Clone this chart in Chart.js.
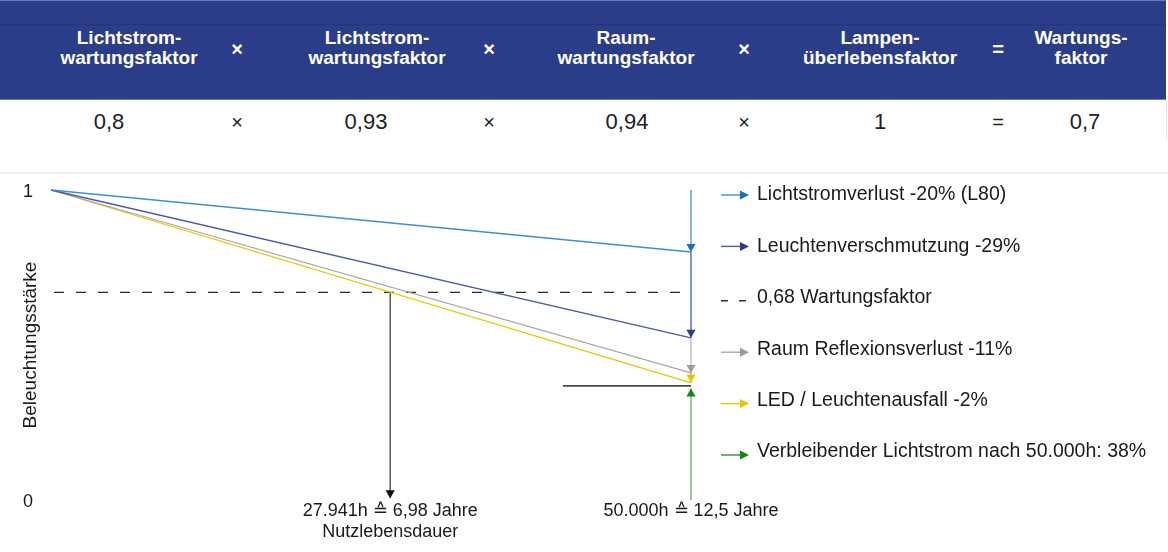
<!DOCTYPE html>
<html lang="de">
<head>
<meta charset="utf-8">
<title>Wartungsfaktor</title>
<script src="https://cdn.jsdelivr.net/npm/chart.js@4"></script>
<style>
  body { margin: 0; width: 1168px; height: 552px; position: relative; overflow: hidden; background: #fff;
         font-family: 'Liberation Sans', Arial, sans-serif; color: #1a1a1a; }
  .head { position: absolute; left: 0; top: 0; width: 1166px; height: 98px; background: #2b3d89;
          border-top: 1px solid #6f7db3; border-bottom: 1px solid #6f7db3; }
  .head .rule { position: absolute; left: 0; top: 23px; width: 100%; height: 1px; background: #24357a; }
  .row { position: absolute; left: 0; top: 100px; width: 1166px; height: 40px; border-right: 1px solid #e4e4e4; }
  .sep { position: absolute; left: 0; top: 172px; width: 1168px; height: 2px; background: #ececec; }
  .cell { position: absolute; transform: translateX(-50%); text-align: center; white-space: nowrap; }
  .hcell { top: 27px; font-weight: bold; font-size: 19px; line-height: 20px; color: #fff; }
  .hop { top: 36px; font-weight: bold; font-size: 20px; line-height: 24px; color: #fff; }
  .vcell { top: 9px; font-size: 22px; line-height: 26px; color: #222; }
  .vop { top: 10px; font-size: 20px; line-height: 24px; color: #222; }
  #chartBox { position: absolute; left: 0; top: 174px; width: 1168px; height: 378px; }
</style>
</head>
<body>
<div class="head" id="head"><div class="rule"></div></div>
<div class="row" id="row"></div>
<div class="sep"></div>
<div id="chartBox"><canvas id="maintChart"></canvas></div>

<script>
// --- table data ---
const factorHeaders = [
    ['Lichtstrom-', 'wartungsfaktor'],
    ['Lichtstrom-', 'wartungsfaktor'],
    ['Raum-', 'wartungsfaktor'],
    ['Lampen-', 'überlebensfaktor'],
    ['Wartungs-', 'faktor']
];
const factorValues = ['0,8', '0,93', '0,94', '1', '0,7'];
const operators = ['×', '×', '×', '='];

// --- chart data (hours / relative illuminance) ---
const hoursRange = [0, 50000];
const lichtstromverlust = [1, 0.80];
const leuchtenverschmutzung = [1, 0.523];
const raumReflexionsverlust = [1, 0.41];
const ledLeuchtenausfall = [1, 0.378];
const wartungsfaktorWert = 0.67;
const verbleibenderLichtstrom = [0, 0.36];
const nutzlebensdauerStunden = 26500;
const nutzlebensdauerBis = 0.006;
const restLinieStunden = [40000, 50000];
const restLinieWert = 0.368;

const yTickValues = [0, 1];
const xTickValues = [26500, 50000];
const xTickLabels = [['27.941h ≙ 6,98 Jahre', 'Nutzlebensdauer'], ['50.000h ≙ 12,5 Jahre']];
const yAxisTitle = 'Beleuchtungsstärke';

const legendLabels = [
    'Lichtstromverlust -20% (L80)',
    'Leuchtenverschmutzung -29%',
    '0,68 Wartungsfaktor',
    'Raum Reflexionsverlust -11%',
    'LED / Leuchtenausfall -2%',
    'Verbleibender Lichtstrom nach 50.000h: 38%'
];

// layout
const headCenters = [129, 377, 626, 880, 1081];
const valueCenters = [109, 366, 627, 880, 1085];
const opCenters = [237, 489, 744, 998];

const head = document.getElementById('head');
const row = document.getElementById('row');
factorHeaders.forEach((lines, i) => {
    const d = document.createElement('div');
    d.className = 'cell hcell';
    d.style.left = headCenters[i] + 'px';
    d.innerHTML = lines.join('<br>');
    head.appendChild(d);
    const v = document.createElement('div');
    v.className = 'cell vcell';
    v.style.left = valueCenters[i] + 'px';
    v.textContent = factorValues[i];
    row.appendChild(v);
});
operators.forEach((op, i) => {
    const h = document.createElement('div');
    h.className = 'cell hop';
    h.style.left = opCenters[i] + 'px';
    h.textContent = op;
    head.appendChild(h);
    const v = document.createElement('div');
    v.className = 'cell vop';
    v.style.left = opCenters[i] + 'px';
    v.textContent = op;
    row.appendChild(v);
});

const pts = (xs, ys) => xs.map((x, i) => ({ x: x, y: ys[i] }));
const endH = hoursRange[1];

const lineSet = (data, color, width, extra) => Object.assign({
    data: data, borderColor: color, borderWidth: width, pointRadius: 0, clip: false, fill: false
}, extra || {});

const datasets = [
    lineSet(pts(hoursRange, lichtstromverlust), '#3d8fd5', 1.3),
    lineSet(pts(hoursRange, leuchtenverschmutzung), '#4a5aaa', 1.3),
    lineSet(pts(hoursRange, raumReflexionsverlust), '#a8a8a8', 1.3),
    lineSet(pts(hoursRange, ledLeuchtenausfall), '#f0c200', 1.3),
    lineSet(pts(hoursRange, [wartungsfaktorWert, wartungsfaktorWert]), '#2a2a2a', 1.2, { borderDash: [10, 12], borderDashOffset: -3 }),
    lineSet(pts(restLinieStunden, [restLinieWert, restLinieWert]), '#4a4a4a', 1.6),
    // vertical loss arrows at 50.000h
    lineSet(pts([endH, endH], [lichtstromverlust[0], lichtstromverlust[1]]), '#5a9ed9', 1.5, { arrow: '#1a6fc0' }),
    lineSet(pts([endH, endH], [lichtstromverlust[1], leuchtenverschmutzung[1]]), '#6271b8', 1.5, { arrow: '#2b3d8a' }),
    lineSet(pts([endH, endH], [leuchtenverschmutzung[1], raumReflexionsverlust[1]]), '#c4c4c4', 1.5, { arrow: '#9b9b9b' }),
    lineSet(pts([endH, endH], [raumReflexionsverlust[1], ledLeuchtenausfall[1]]), '#f0c000', 1.5, { arrow: '#f0c000' }),
    lineSet(pts([endH, endH], verbleibenderLichtstrom), '#74b874', 1.5, { arrow: '#0e8a0e' }),
    lineSet(pts([nutzlebensdauerStunden, nutzlebensdauerStunden], [wartungsfaktorWert, nutzlebensdauerBis]), '#5a5a5a', 1.5, { arrow: '#111' })
];

function drawHead(ctx, tipX, tipY, angle, len, half, color) {
    ctx.save();
    ctx.translate(tipX, tipY);
    ctx.rotate(angle);
    ctx.beginPath();
    ctx.moveTo(0, 0);
    ctx.lineTo(-len, -half);
    ctx.lineTo(-len, half);
    ctx.closePath();
    ctx.fillStyle = color;
    ctx.fill();
    ctx.restore();
}

const arrowPlugin = {
    id: 'arrowHeads',
    afterDatasetsDraw: (chart) => {
        const ctx = chart.ctx;
        chart.data.datasets.forEach((ds, i) => {
            if (!ds.arrow) return;
            const pts = chart.getDatasetMeta(i).data;
            const a = pts[pts.length - 2], b = pts[pts.length - 1];
            drawHead(ctx, b.x, b.y, Math.atan2(b.y - a.y, b.x - a.x), 8, 4.6, ds.arrow);
        });
    }
};

const legendLine = ['#3d8fd5', '#4a5aaa', '#333', '#a8a8a8', '#f0c200', '#2e962e'];
const legendHead = ['#1a6fc0', '#2b3d8a', '#333', '#9b9b9b', '#f0c000', '#0e8a0e'];
const legendPlugin = {
    id: 'arrowLegend',
    afterDraw: (chart) => {
        const ctx = chart.ctx;
        const x0 = 721, tx = 757, top = 21, step = 51.4;
        ctx.save();
        ctx.font = '19.5px "Liberation Sans", Arial, sans-serif';
        ctx.textBaseline = 'middle';
        legendLabels.forEach((label, i) => {
            const y = top + i * step;
            const ay = y + (i < 2 ? 0 : 3);
            ctx.strokeStyle = legendLine[i];
            ctx.lineWidth = 1.4;
            if (i === 2) {
                ctx.beginPath();
                ctx.moveTo(x0, ay); ctx.lineTo(x0 + 7, ay);
                ctx.moveTo(x0 + 18, ay); ctx.lineTo(x0 + 25, ay);
                ctx.stroke();
            } else {
                ctx.beginPath();
                ctx.moveTo(x0, ay); ctx.lineTo(x0 + 20, ay);
                ctx.stroke();
                drawHead(ctx, x0 + 28, ay, 0, 9, 4.5, legendHead[i]);
            }
            ctx.fillStyle = '#1a1a1a';
            ctx.fillText(label, tx, y);
        });
        ctx.restore();
    }
};

new Chart(document.getElementById('maintChart'), {
    type: 'line',
    data: { datasets: datasets },
    options: {
        responsive: true,
        maintainAspectRatio: false,
        animation: false,
        layout: { padding: { left: 0, top: 16, right: 477, bottom: 0 } },
        plugins: { legend: { display: false }, tooltip: { enabled: false } },
        scales: {
            x: {
                type: 'linear', min: hoursRange[0], max: hoursRange[1],
                grid: { display: false, drawTicks: false }, border: { display: false },
                afterBuildTicks: (scale) => { scale.ticks = xTickValues.map(v => ({ value: v })); },
                afterFit: (scale) => { scale.height = 52; scale.paddingLeft = 0; scale.paddingRight = 0; },
                ticks: {
                    autoSkip: false, maxRotation: 0, padding: 0, color: '#1a1a1a',
                    font: { size: 18, family: '"Liberation Sans", Arial, sans-serif', lineHeight: 1.2 },
                    callback: (v) => xTickLabels[xTickValues.indexOf(v)]
                }
            },
            y: {
                type: 'linear', min: 0, max: 1,
                grid: { display: false, drawTicks: false }, border: { display: false },
                afterBuildTicks: (scale) => { scale.ticks = yTickValues.map(v => ({ value: v })); },
                afterFit: (scale) => { scale.width = 51; scale.paddingTop = 0; scale.paddingBottom = 0; },
                ticks: {
                    padding: 18, color: '#1a1a1a', labelOffset: 2,
                    font: { size: 18, family: '"Liberation Sans", Arial, sans-serif' },
                    callback: (v) => String(v)
                },
                title: {
                    display: true, text: yAxisTitle, color: '#1a1a1a',
                    font: { size: 19, family: '"Liberation Sans", Arial, sans-serif' },
                    padding: { top: 19, bottom: 0 }
                }
            }
        }
    },
    plugins: [arrowPlugin, legendPlugin]
});
</script>
</body>
</html>
